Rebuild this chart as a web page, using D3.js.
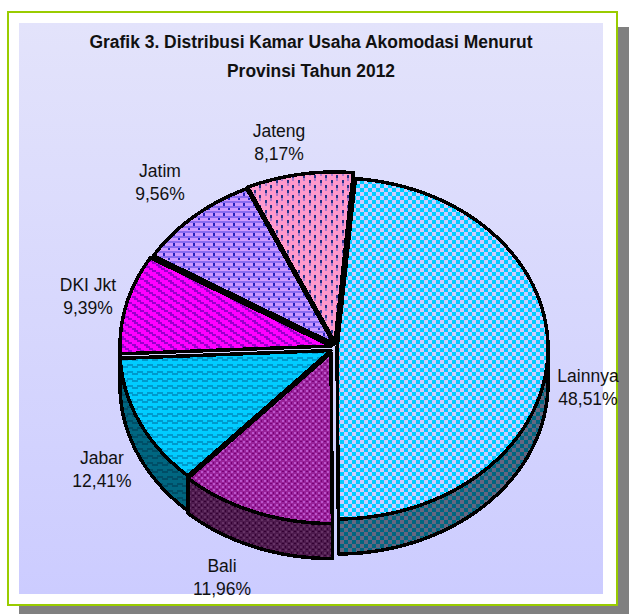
<html>
	<head>
		<title>Grafik 3</title>
		<style>
			body { margin: 0; background: #fff; overflow: hidden; }
			text { font-family: "Liberation Sans", Arial, sans-serif; fill: #111; }
		</style>
	</head>
	<body>
		<div id="chart"></div>

		<script src="https://cdn.jsdelivr.net/npm/d3@7"></script>
		<script>
			var categories = ['Lainnya', 'Bali', 'Jabar', 'DKI Jkt', 'Jatim', 'Jateng'];
			var shares = [48.51, 11.96, 12.41, 9.39, 9.56, 8.17];
			var shareLabels = ['48,51%', '11,96%', '12,41%', '9,39%', '9,56%', '8,17%'];
			var titleLines = ['Grafik 3. Distribusi Kamar Usaha Akomodasi Menurut', 'Provinsi Tahun 2012'];

			(function(){
				var w = 629,
					h = 614,
					rx = 211,
					ry = 170.5,
					depth = 35;

				// slice centres, the pie is pulled apart a bit unevenly
				var centres = [[337, 348.5], [331, 353], [331, 350.5], [331, 346], [334, 344], [335, 342.5]];
				var labelPos = [[588, 382], [222, 572], [102, 464], [88, 291], [160, 177], [279, 137]];
				var titleWidths = [443, 168];

				var svg = d3.select("#chart").append("svg")
					.attr("width", w)
					.attr("height", h);

				var defs = svg.append("defs");

				var bg = defs.append("linearGradient")
					.attr("id", "bg")
					.attr("x1", 0).attr("y1", 0).attr("x2", 0).attr("y2", 1);
				bg.append("stop").attr("offset", "0%").attr("stop-color", "#e3e3fb");
				bg.append("stop").attr("offset", "100%").attr("stop-color", "#ccccff");

				function pattern(id, pw, ph, fill, cells){
					var p = defs.append("pattern")
						.attr("id", id)
						.attr("patternUnits", "userSpaceOnUse")
						.attr("width", pw)
						.attr("height", ph);
					p.append("rect").attr("width", pw).attr("height", ph).attr("fill", fill);
					cells.forEach(function(c){
						p.append("rect")
							.attr("x", c[0]).attr("y", c[1])
							.attr("width", c[2]).attr("height", c[3])
							.attr("fill", c[4]);
					});
				}

				function check(id, a, b){
					pattern(id, 8, 8, a, [[0, 0, 4, 4, b], [4, 4, 4, 4, b]]);
				}
				function ticks(id, a, b, c){
					pattern(id, 11, 10, a, [[1, 0, 2, 3, b], [1, 3, 2, 3, c], [6, 5, 2, 3, b], [6, 8, 2, 2, c], [6, 0, 2, 1, c]]);
				}
				function brick(id, a, b, c){
					pattern(id, 10, 10, a, [[0, 1, 10, 2, b], [3, 3, 2, 3, c], [0, 6, 10, 2, b], [8, 8, 2, 3, c]]);
				}
				function stairs(id, a, b){
					pattern(id, 12, 8, a, [[0, 0, 4, 2, b], [2, 2, 4, 2, b], [5, 4, 4, 2, b], [8, 6, 4, 2, b]]);
				}
				function wave(id, a, b){
					pattern(id, 10, 7, a, [[0, 0, 3, 2, b], [2, 2, 3, 2, b], [5, 2, 3, 2, b], [7, 0, 3, 2, b]]);
				}
				function speck(id, a, b, c){
					pattern(id, 6, 6, a, [[0, 0, 2, 2, b], [3, 3, 2, 2, b], [3, 0, 1, 2, c], [0, 3, 2, 1, c]]);
				}

				check("f0", "#00ccff", "#ccccff");
				speck("f1", "#992299", "#bb55cc", "#770077");
				wave("f2", "#00ccff", "#0099cc");
				stairs("f3", "#ff00ff", "#9900cc");
				brick("f4", "#cc99ff", "#8a6cf0", "#2222bb");
				ticks("f5", "#ff99cc", "#223388", "#aa77cc");

				check("s0", "#006680", "#666680");
				speck("s1", "#4d1a4d", "#663366", "#330033");
				wave("s2", "#006680", "#004d66");

				// page frame
				svg.append("rect").attr("x", 19).attr("y", 27).attr("width", 610).attr("height", 587).attr("fill", "#808080");
				svg.append("rect").attr("x", 8).attr("y", 12).attr("width", 609).attr("height", 593)
					.attr("fill", "#fff").attr("stroke", "#99cc00").attr("stroke-width", 2);
				svg.append("rect").attr("x", 19).attr("y", 23).attr("width", 584).attr("height", 571).attr("fill", "url(#bg)");

				svg.selectAll("text.title")
					.data(titleLines)
					.enter()
					.append("text")
					.attr("class", "title")
					.attr("x", 311)
					.attr("y", function(d, i){ return 48 + i * 29; })
					.attr("text-anchor", "middle")
					.attr("font-size", 18)
					.attr("font-weight", "bold")
					.attr("textLength", function(d, i){ return titleWidths[i]; })
					.attr("lengthAdjust", "spacingAndGlyphs")
					.text(function(d){ return d; });

				var pie = d3.pie()
					.sort(null)
					.startAngle(5 * Math.PI / 180)
					.endAngle(365 * Math.PI / 180);

				var slices = pie(shares);
				var line = d3.line();

				function onRim(c, a, dy){
					return [c[0] + rx * Math.sin(a), c[1] - ry * Math.cos(a) + dy];
				}

				function rim(c, a0, a1, dy){
					var n = Math.max(2, Math.ceil((a1 - a0) * 60));
					return d3.range(n + 1).map(function(i){
						return onRim(c, a0 + (a1 - a0) * i / n, dy);
					});
				}

				// side wall is only seen on the lower half of the ellipse
				var walls = [];
				slices.forEach(function(d, i){
					var a0 = Math.max(d.startAngle, Math.PI / 2),
						a1 = Math.min(d.endAngle, 3 * Math.PI / 2);
					if(a1 > a0){
						var top = rim(centres[i], a0, a1, 0);
						var bottom = rim(centres[i], a0, a1, depth).reverse();
						walls.push({ i: i, path: line(top.concat(bottom)) + "Z" });
					}
				});

				svg.append("g")
					.selectAll("path")
					.data(walls)
					.enter()
					.append("path")
					.attr("d", function(d){ return d.path; })
					.attr("fill", function(d){ return "url(#s" + d.i + ")"; })
					.attr("stroke", "#000")
					.attr("stroke-width", 3.5)
					.attr("stroke-linejoin", "round")
					.attr("shape-rendering", "crispEdges");

				svg.append("g")
					.selectAll("path")
					.data(slices)
					.enter()
					.append("path")
					.attr("d", function(d, i){
						var c = centres[i];
						return line([c].concat(rim(c, d.startAngle, d.endAngle, 0))) + "Z";
					})
					.attr("fill", function(d, i){ return "url(#f" + i + ")"; })
					.attr("stroke", "#000")
					.attr("stroke-width", 3.5)
					.attr("stroke-linejoin", "round")
					.attr("shape-rendering", "crispEdges");

				var labels = svg.append("g")
					.selectAll("text")
					.data(categories)
					.enter()
					.append("text")
					.attr("text-anchor", "middle")
					.attr("font-size", 17.5);

				labels.append("tspan")
					.attr("x", function(d, i){ return labelPos[i][0]; })
					.attr("y", function(d, i){ return labelPos[i][1]; })
					.text(function(d){ return d; });

				labels.append("tspan")
					.attr("x", function(d, i){ return labelPos[i][0]; })
					.attr("y", function(d, i){ return labelPos[i][1] + 23; })
					.text(function(d, i){ return shareLabels[i]; });
			})();
		</script>
	</body>
</html>
